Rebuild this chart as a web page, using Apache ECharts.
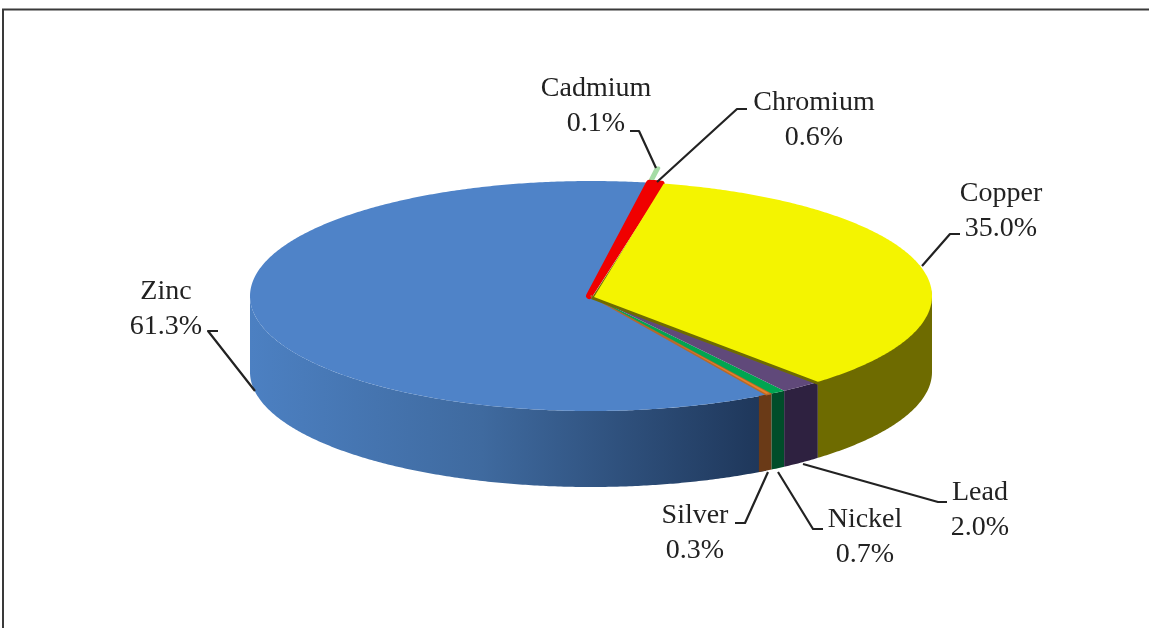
<!DOCTYPE html>
<html><head><meta charset="utf-8">
<style>html,body{margin:0;padding:0;background:#fff}#c{width:1149px;height:628px}</style>
<script src="https://cdn.jsdelivr.net/npm/echarts@6/dist/echarts.min.js"></script>
</head><body><div id="c"></div>
<script>
// Data, clockwise from the start of Copper
const metals = ['Copper','Lead','Nickel','Silver','Zinc','Cadmium','Chromium'];
const shares = [35.0,2.0,0.7,0.3,61.3,0.1,0.6];

// Appearance, separate from the data
const drawOrder = ['Zinc','Cadmium','Chromium','Silver','Nickel','Lead','Copper'];
const topColors = {Copper:'#f4f400',Lead:'#60497a',Nickel:'#00a551',Silver:'#e8822a',Zinc:'#4f83c8',Cadmium:'#a5dca5',Chromium:'#f00000'};
const wallColors = {Copper:'#6e6b00',Lead:'#2e2140',Nickel:'#004d2a',Silver:'#6a3a17',Zinc:'#3d6291',Cadmium:'#6a9a6a',Chromium:'#8a0000'};
const topStroke = {Chromium:['#f00000',6],Cadmium:['#a5dca5',3],Silver:['#b5682a',1.5]};
const wallExtend = {Silver:1.4};
const topShift = {Chromium:[-2,0],Copper:[3,1]};
const radiusScale = {Cadmium:1.13};
const labelPos = {Cadmium:[596,106],Chromium:[814,120],Copper:[1001,211],Zinc:[166,309],Lead:[980,510],Nickel:[865,537],Silver:[695,533]};
const leaders = {
  Cadmium:[[630,131],[639,131],[656,168]],
  Chromium:[[747,109],[737,109],[657,182]],
  Copper:[[960,234],[950,234],[922,266]],
  Zinc:[[218,331],[208,331],[255,391]],
  Lead:[[947,502],[938,502],[803,464]],
  Nickel:[[823,529],[813,529],[778,472]],
  Silver:[[735,523],[745,523],[768,472]]
};
const CX=591, CY=296, RX=341, RY=115, DEPTH=76, START=-77.7;

const total = shares.reduce((a,b)=>a+b,0);
const ranges = {};
let acc = START;
metals.forEach((m,i)=>{const sweep=shares[i]/total*360; ranges[m]=[acc,acc+sweep]; acc+=sweep;});

function pt(a,k,dy){const r=a*Math.PI/180;return [CX+RX*k*Math.cos(r),CY+RY*k*Math.sin(r)+(dy||0)];}
function arc(a0,a1,k,dy){const n=Math.max(1,Math.ceil((a1-a0)/0.5));const p=[];for(let i=0;i<=n;i++)p.push(pt(a0+(a1-a0)*i/n,k,dy));return p;}

function renderItem(params,api){
  const name = metals[api.value(0)], value = api.value(1);
  const [s,e] = ranges[name];
  const children = [];
  const a0=Math.max(s,0), a1=Math.min(e+(wallExtend[name]||0),180);
  if(a1>a0){
    const pts=arc(a0,a1,1,0).concat(arc(a0,a1,1,DEPTH).reverse());
    const fill = name==='Zinc'
      ? {type:'linear',x:250,y:0,x2:765,y2:0,global:true,colorStops:[{offset:0,color:'#4c80c2'},{offset:0.45,color:'#3f6a9f'},{offset:1,color:'#1e3659'}]}
      : wallColors[name];
    children.push({type:'polygon',shape:{points:pts},style:{fill}});
  }
  if(name==='Copper'){
    children.push({type:'polygon',shape:{points:[[CX,CY+3]].concat(arc(s,e,1,3))},style:{fill:wallColors.Copper}});
  }
  const k=radiusScale[name]||1;
  const ts=topStroke[name];
  const shift=topShift[name]||[0,0];
  const rim=arc(s,e,k,0).map(p=>name==='Chromium'?[p[0]+shift[0],p[1]+shift[1]]:p);
  const topPts=[[CX+shift[0],CY+shift[1]]].concat(rim);
  children.push({type:'polygon',shape:{points:topPts},style:{fill:topColors[name],stroke:ts?ts[0]:null,lineWidth:ts?ts[1]:0,lineJoin:'round'}});
  children.push({type:'polyline',z2:100,shape:{points:leaders[name]},style:{stroke:'#222',lineWidth:2.2,fill:null,lineJoin:'round'}});
  const lp=labelPos[name];
  children.push({type:'text',z2:100,x:lp[0],y:lp[1],style:{text:name+'\n'+value.toFixed(1)+'%',fill:'#222',font:'28px "Liberation Serif"',lineHeight:35,align:'center',verticalAlign:'middle'}});
  return {type:'group',children};
}

const chart = echarts.init(document.getElementById('c'),null,{renderer:'canvas'});
chart.setOption({
  animation:false,
  backgroundColor:'#fff',
  graphic:[{type:'polyline',shape:{points:[[3,628],[3,9.5],[1149,9.5]]},style:{stroke:'#3a3a3a',lineWidth:2,fill:null}}],
  series:[{
    type:'custom',
    coordinateSystem:'none',
    renderItem,
    silent:true,
    data:drawOrder.map(n=>{const i=metals.indexOf(n);return [i,shares[i]];})
  }]
});
</script></body></html>
